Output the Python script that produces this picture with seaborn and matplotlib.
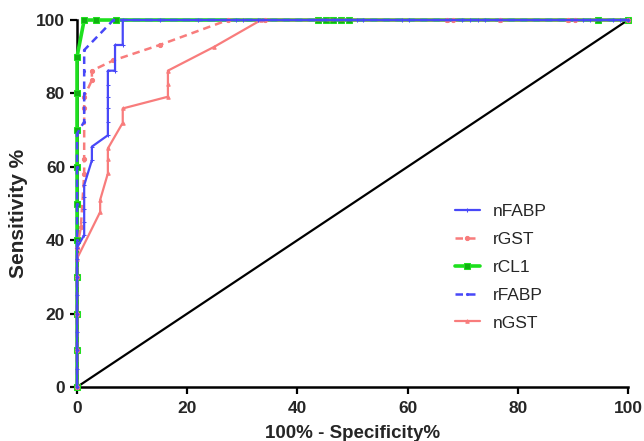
import numpy as np
import pandas as pd
import seaborn as sns
import matplotlib.pyplot as plt

# ROC points (100% - specificity, sensitivity)
nfabp_x = [0, 0, 0, 0, 0, 0, 0, 0, 0, 1.3, 1.3, 1.3, 1.3, 1.3, 2.7, 2.7, 5.6, 5.6, 5.6, 5.6, 5.6, 5.6,
           6.9, 6.9, 8.3, 8.3, 15.1, 22, 28.9, 30.1, 32.9, 50.8, 52, 59, 60.3, 69.9, 71.3, 72.8, 74,
           91.8, 93.1, 97.3, 98.5, 100]
nfabp_y = [0, 5, 10, 15, 20, 25, 30, 35, 38, 41.4, 45, 48.4, 51.8, 55, 61.8, 65.5, 68.6, 72.3, 75.9, 79.1, 82.2, 86.2,
           86.2, 93.2, 93.2, 100, 100, 100, 100, 100, 100, 100, 100, 100, 100, 100, 100, 100, 100,
           100, 100, 100, 100, 100]

rgst_x = [0, 0, 0, 0, 0, 0.7, 1.3, 1.3, 1.3, 1.3, 2.7, 2.7, 6.6, 15, 27.4, 34.1, 67.2, 68.2, 76.8, 89.1, 90.4, 100]
rgst_y = [0, 10, 20, 30, 38, 43.6, 58, 62, 75.9, 79.1, 83.6, 86.2, 89, 93.2, 100, 100, 100, 100, 100, 100, 100, 100]

rcl1_x = [0, 0, 0, 0, 0, 0, 0, 0, 0, 0, 1.3, 3.5, 7, 43.8, 45.2, 46.5, 47.9, 49.4, 94.6, 100]
rcl1_y = [0, 10, 20, 30, 40, 50, 60, 70, 80, 90, 100, 100, 100, 100, 100, 100, 100, 100, 100, 100]

rfabp_x = [0, 0, 0, 0, 0, 0, 0, 0, 1.3, 1.3, 1.3, 1.3, 6.6, 100]
rfabp_y = [0, 10, 20, 30, 40, 50, 60, 69, 72.3, 80, 86, 91.8, 100, 100]

ngst_x = [0, 0, 0, 0, 0, 4.2, 4.2, 5.6, 5.6, 5.6, 8.3, 8.3, 16.5, 16.5, 16.5, 24.9, 33.4, 67.2, 76.8, 89.1, 100]
ngst_y = [0, 10, 20, 30, 35, 47.7, 51, 58.2, 62, 65, 72, 75.9, 79.1, 82.7, 86.2, 92.7, 100, 100, 100, 100, 100]

ref_line = [0, 100]

sns.set_style("ticks")
plt.rcParams['font.family'] = ['Liberation Sans', 'DejaVu Sans']

fig = plt.figure(figsize=(6.44, 4.41), dpi=100)
ax = fig.add_axes([0.1196, 0.1224, 0.8554, 0.8322])

blue = "#4848f8"
pink = "#f87c7c"
green = "#1ee01e"

# estimator=None so repeated x values (vertical steps) are drawn as-is
kw = dict(sort=False, estimator=None, ax=ax, clip_on=False)

sns.lineplot(x=ref_line, y=ref_line, color="black", lw=1.6, **kw)
sns.lineplot(x=rcl1_x, y=rcl1_y, color=green, lw=2.6, marker="s", ms=4,
             mec=green, mfc="#12b012", label="rCL1", zorder=3, **kw)
sns.lineplot(x=ngst_x, y=ngst_y, color=pink, lw=1.6, marker="^", ms=2.5,
             mec=pink, label="nGST", zorder=4, **kw)
sns.lineplot(x=rgst_x, y=rgst_y, color=pink, lw=1.8, ls=(0, (3, 2)), marker="o", ms=3,
             mec=pink, label="rGST", zorder=4, **kw)
sns.lineplot(x=rfabp_x, y=rfabp_y, color=blue, lw=1.8, ls=(0, (3, 2)), marker=".", ms=3,
             mec=blue, label="rFABP", zorder=5, **kw)
sns.lineplot(x=nfabp_x, y=nfabp_y, color=blue, lw=1.6, marker="+", ms=3.5,
             mec=blue, label="nFABP", zorder=5, **kw)

ax.set_xlim(0, 100)
ax.set_ylim(0, 100)
ax.set_xticks([0, 20, 40, 60, 80, 100])
ax.set_yticks([0, 20, 40, 60, 80, 100])
for lab in ax.get_xticklabels() + ax.get_yticklabels():
    lab.set_fontweight("bold")
    lab.set_fontsize(12.5)
ax.tick_params(width=1.6, length=5, color="black")
ax.tick_params(axis="x", pad=5)
for s in ["left", "bottom"]:
    ax.spines[s].set_linewidth(1.8)
    ax.spines[s].set_color("black")
sns.despine(ax=ax)
ax.set_xlabel("100% - Specificity%", fontsize=13.5, fontweight="bold", labelpad=6.5)
ax.set_ylabel("Sensitivity %", fontsize=15, fontweight="bold")
ax.yaxis.set_label_coords(-0.089, 0.474)

handles, labels = ax.get_legend_handles_labels()
order = ["nFABP", "rGST", "rCL1", "rFABP", "nGST"]
hmap = dict(zip(labels, handles))
ax.legend([hmap[k] for k in order], order, loc="upper left", bbox_to_anchor=(0.6575, 0.541),
          frameon=False, fontsize=12.5, labelspacing=0.73, handlelength=1.45, handletextpad=0.75)

fig.savefig("out.png", dpi=100)
